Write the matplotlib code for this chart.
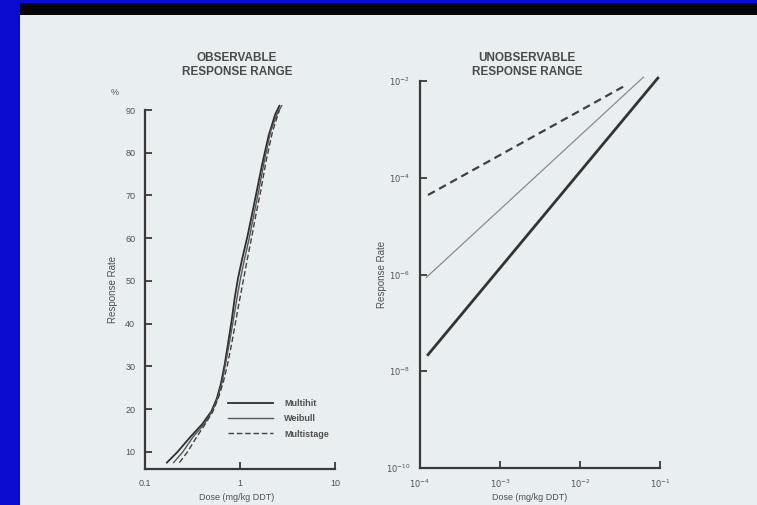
import matplotlib
matplotlib.use("Agg")
import matplotlib.pyplot as plt
from matplotlib.patches import Rectangle
from matplotlib.ticker import FixedLocator, NullLocator

plt.rcParams['font.family'] = ['Liberation Sans', 'DejaVu Sans']

# ---------------- data ----------------
# Observable range (left panel): dose (mg/kg DDT) vs response rate (%)
multihit_dose = [0.17, 0.22, 0.3, 0.4, 0.5, 0.57, 0.63, 0.69, 0.75, 0.82, 0.88, 0.95, 1.05, 1.2, 1.35, 1.5, 1.7, 2.0, 2.35, 2.6]
multihit_resp = [7.5, 10, 13.5, 16.5, 19.5, 22.5, 26, 30.5, 35.5, 41, 46, 50.5, 55, 60.5, 66, 71, 77, 84, 89, 91]
weibull_dose = [0.2, 0.25, 0.32, 0.42, 0.51, 0.58, 0.65, 0.71, 0.78, 0.86, 0.93, 1.0, 1.1, 1.25, 1.4, 1.57, 1.8, 2.1, 2.45, 2.75]
weibull_resp = [7.5, 10, 13.5, 16.5, 19.5, 22.5, 26.5, 31, 36, 41.5, 46, 50, 54.5, 60, 65.5, 71, 78, 85, 89, 91]
multistage_dose = [0.23, 0.28, 0.35, 0.43, 0.52, 0.6, 0.67, 0.74, 0.82, 0.9, 0.98, 1.07, 1.18, 1.32, 1.47, 1.65, 1.88, 2.2, 2.6]
multistage_resp = [7.5, 10, 13.5, 16.5, 19.5, 23, 26.5, 30.5, 35.5, 40.5, 45, 49.5, 54.5, 60, 65.5, 71, 78, 85, 90]
left_yticks = [10, 20, 30, 40, 50, 60, 70, 80, 90]
left_xticks = [0.1, 1, 10]
left_xticklabels = ['0.1', '1', '10']
legend_labels = ['Multihit', 'Weibull', 'Multistage']

# Unobservable range (right panel): low-dose extrapolations
ms_low_dose = [1.26e-4, 3.8e-2]
ms_low_resp = [4.4e-5, 8.3e-3]
wb_low_dose = [1.2e-4, 6.2e-2]
wb_low_resp = [8.7e-7, 1.2e-2]
mh_low_dose = [1.26e-4, 9.4e-2]
mh_low_resp = [2.2e-8, 1.15e-2]
right_xticks = [1e-4, 1e-3, 1e-2, 1e-1]
right_xticklabels = [r'$10^{-4}$', r'$10^{-3}$', r'$10^{-2}$', r'$10^{-1}$']
right_yticks = [1e-10, 1e-8, 1e-6, 1e-4, 1e-2]
right_yticklabels = [r'$10^{-10}$', r'$10^{-8}$', r'$10^{-6}$', r'$10^{-4}$', r'$10^{-2}$']

# ---------------- figure ----------------
W, H = 757, 505
fig = plt.figure(figsize=(W / 100, H / 100), dpi=100)
fig.patch.set_facecolor('#0b0bd0')
paper = '#e9eff1'
fig.patches.append(Rectangle((20 / W, 0), 1 - 20 / W, 1 - 15 / H, transform=fig.transFigure,
                             facecolor=paper, edgecolor='none', zorder=-5))
fig.patches.append(Rectangle((20 / W, 1 - 15 / H), 1 - 20 / W, 12 / H, transform=fig.transFigure,
                             facecolor='#050505', edgecolor='none', zorder=-5))

ink = '#3a3a3a'
lab = '#505050'

def px_axes(x0, x1, ytop, ybot):
    return fig.add_axes([x0 / W, 1 - ybot / H, (x1 - x0) / W, (ybot - ytop) / H])

# ---- left panel ----
ax1 = px_axes(145, 335, 110, 469)
ax1.set_facecolor('none')
ax1.set_xscale('log')
ax1.set_xlim(0.1, 10)
ax1.set_ylim(6, 90)
ax1.plot(multihit_dose, multihit_resp, color='#2e2e2e', lw=1.3, label=legend_labels[0], clip_on=False)
ax1.plot(weibull_dose, weibull_resp, color='#555555', lw=1.0, label=legend_labels[1], clip_on=False)
ax1.plot(multistage_dose, multistage_resp, color='#404040', lw=1.0, ls=(0, (4, 2)),
         label=legend_labels[2], clip_on=False)
ax1.xaxis.set_major_locator(FixedLocator(left_xticks))
ax1.xaxis.set_minor_locator(NullLocator())
ax1.set_xticklabels(left_xticklabels)
ax1.set_yticks(left_yticks)
for s in ['top', 'right']:
    ax1.spines[s].set_visible(False)
for s in ['left', 'bottom']:
    ax1.spines[s].set_color(ink)
    ax1.spines[s].set_linewidth(1.6)
ax1.tick_params(direction='in', length=5, width=1.3, color=ink, labelsize=6.5,
                labelcolor=lab, pad=7)
leg = ax1.legend(loc='upper left', bbox_to_anchor=(228 / W, 1 - 399 / H),
                 bbox_transform=fig.transFigure, frameon=False, borderpad=0,
                 borderaxespad=0, fontsize=6.5, handlelength=5.0, labelspacing=0.7,
                 handletextpad=1.2)
for t in leg.get_texts():
    t.set_color(lab)
    t.set_fontweight('bold')
ax1.set_ylabel('Response Rate', fontsize=7, color=lab, labelpad=5)
fig.text(115 / W, 1 - 93 / H, '%', fontsize=6.5, color=lab, ha='center', va='center')

# ---- right panel ----
ax2 = px_axes(420, 660, 81, 468)
ax2.set_facecolor('none')
ax2.set_xscale('log')
ax2.set_yscale('log')
ax2.set_xlim(1e-4, 1e-1)
ax2.set_ylim(1e-10, 1e-2)
ax2.plot(ms_low_dose, ms_low_resp, color='#404040', lw=1.6, ls=(0, (3.5, 2.2)), clip_on=False)
ax2.plot(wb_low_dose, wb_low_resp, color='#8a8a8a', lw=0.9, clip_on=False)
ax2.plot(mh_low_dose, mh_low_resp, color='#333333', lw=2.0, clip_on=False)
ax2.xaxis.set_major_locator(FixedLocator(right_xticks))
ax2.xaxis.set_minor_locator(NullLocator())
ax2.set_xticklabels(right_xticklabels)
ax2.yaxis.set_major_locator(FixedLocator(right_yticks))
ax2.yaxis.set_minor_locator(NullLocator())
ax2.set_yticklabels(right_yticklabels)
for s in ['top', 'right']:
    ax2.spines[s].set_visible(False)
for s in ['left', 'bottom']:
    ax2.spines[s].set_color(ink)
    ax2.spines[s].set_linewidth(1.6)
ax2.tick_params(direction='in', length=5, width=1.3, color=ink, labelsize=6,
                labelcolor=lab, pad=7)
ax2.set_ylabel('Response Rate', fontsize=7, color=lab, labelpad=-1)

# ---- titles and x labels ----
fig.text(237 / W, 1 - 65 / H, 'OBSERVABLE\nRESPONSE RANGE', ha='center', va='center',
         fontsize=8.5, fontweight='bold', color='#4a4a4a', linespacing=1.15)
fig.text(527 / W, 1 - 65 / H, 'UNOBSERVABLE\nRESPONSE RANGE', ha='center', va='center',
         fontsize=8.5, fontweight='bold', color='#4a4a4a', linespacing=1.15)
fig.text(237 / W, 1 - 497 / H, 'Dose (mg/kg DDT)', ha='center', va='center',
         fontsize=6.5, color=lab)
fig.text(530 / W, 1 - 497 / H, 'Dose (mg/kg DDT)', ha='center', va='center',
         fontsize=6.5, color=lab)

fig.savefig('out.png', dpi=100, facecolor=fig.get_facecolor())
